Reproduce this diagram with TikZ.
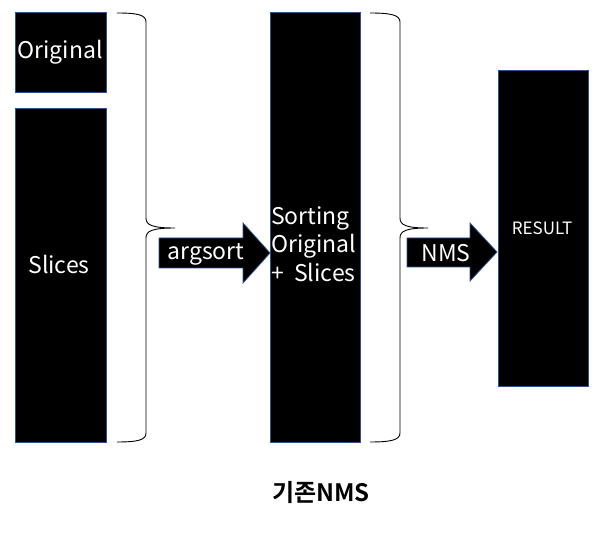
\documentclass[tikz,border=0pt]{standalone}
\usepackage{fontspec}
\setmainfont{Noto Sans CJK KR}[BoldFont={Noto Sans CJK KR Bold}]
\definecolor{edgeblue}{HTML}{2F528F}
\begin{document}
\begin{tikzpicture}[x=1pt,y=1pt,
  blk/.style={draw=edgeblue,fill=black,line width=0.8pt,inner sep=0pt},
  lbl/.style={text=white,inner sep=0pt,font=\fontsize{23}{28.5}\selectfont},
  brc/.style={draw=black,line width=0.9pt},
  barrow/.style={draw=edgeblue,fill=black,line width=0.8pt}]
\useasboundingbox (0,0) rectangle (606,-534);
% boxes
\node[blk,minimum width=91pt,minimum height=80pt,anchor=north west] (orig) at (15,-12) {};
\node[blk,minimum width=91pt,minimum height=334pt,anchor=north west] (slices) at (15,-108) {};
\node[blk,minimum width=90pt,minimum height=430pt,anchor=north west] (sort) at (270,-12) {};
\node[blk,minimum width=90pt,minimum height=316pt,anchor=north west] (result) at (498,-70) {};
\node[lbl] (origt) at (60,-52) {Original};
\node[lbl] (slicest) at (59,-264) {Slices};
\node[lbl,align=left,anchor=west] (sortt) at (271,-244) {Sorting\\Original\\+ \ Slices};
\node[lbl,font=\fontsize{17}{18}\selectfont] (resultt) at (542,-228) {RESULT};
% braces
\draw[brc] (117,-13) .. controls (138,-13) and (146,-15) .. (146,-22) -- (146,-218)
  .. controls (146,-225) and (152,-228) .. (175,-228)
  .. controls (152,-228) and (146,-231) .. (146,-238) -- (146,-433)
  .. controls (146,-440) and (138,-442) .. (117,-442);
\draw[brc] (370,-13) .. controls (391,-13) and (400,-15) .. (400,-22) -- (400,-218)
  .. controls (400,-225) and (406,-228) .. (428,-228)
  .. controls (406,-228) and (400,-231) .. (400,-238) -- (400,-433)
  .. controls (400,-440) and (391,-442) .. (370,-442);
% block arrows
\coordinate (a1) at (159,-238);
\draw[barrow] (a1) -- (243,-238) -- (243,-223) -- (270,-253) -- (243,-283) -- (243,-268) -- (159,-268) -- cycle;
\node[lbl] (argt) at (206,-254) {argsort};
\coordinate (a2) at (407,-238);
\draw[barrow] (a2) -- (470,-238) -- (470,-223) -- (497,-252) -- (470,-281) -- (470,-267) -- (407,-267) -- cycle;
\node[lbl] (nmst) at (446,-253) {NMS};
% caption
\node[inner sep=0pt,font=\fontsize{24}{28}\selectfont\bfseries] (cap) at (321,-493) {기존NMS};
\end{tikzpicture}
\end{document}
